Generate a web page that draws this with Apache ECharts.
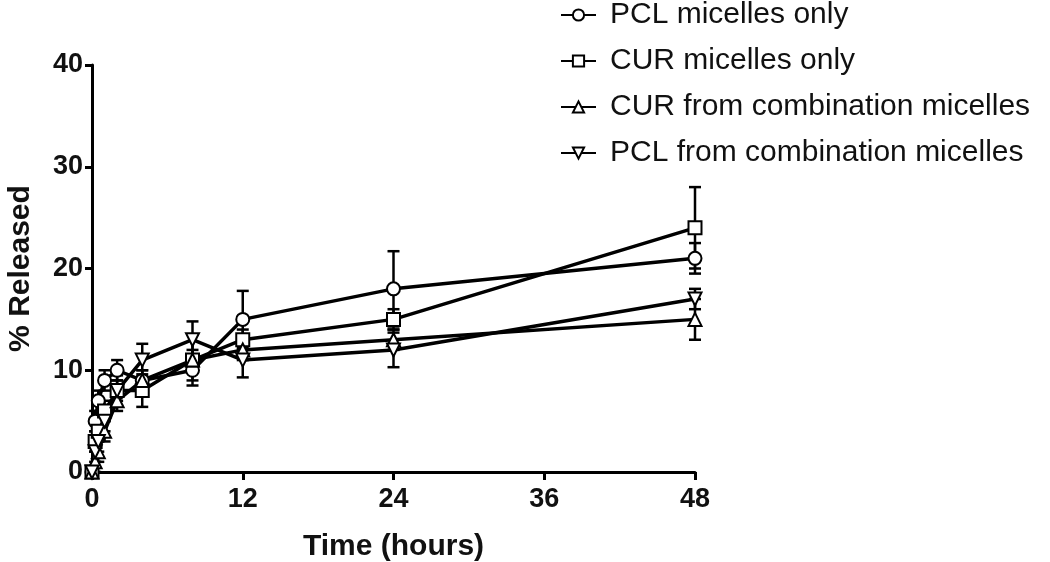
<!DOCTYPE html>
<html>
<head>
<meta charset="utf-8">
<script src="https://cdn.jsdelivr.net/npm/echarts@6/dist/echarts.min.js"></script>
<style>
  html, body { margin: 0; padding: 0; background: #fff; }
  #chart { width: 1050px; height: 562px; }
</style>
</head>
<body>
<div id="chart"></div>
<script>
// Data
const hours = [0, 0.25, 0.5, 1, 2, 4, 8, 12, 24, 48];
const xTicks = [0, 12, 24, 36, 48];

const pclOnly = [0, 5, 7, 9, 10, 9, 10, 15, 18, 21];
const pclOnlyErr = [0, 1, 1, 1, 1, 1, 1, 2.8, 3.7, 1.5];

const curOnly = [0, 3, 4, 6, 8, 8, 11, 13, 15, 24];
const curOnlyErr = [0, 1, 1, 1, 1.5, 1.6, 2.5, 1, 1, 4];

const curComb = [0, 1, 2, 4, 7, 9, 11, 12, 13, 15];
const curCombErr = [0, 1, 1, 1, 1, 1, 1, 1, 1, 2];

const pclComb = [0, 2, 3, 5, 8, 11, 13, 11, 12, 17];
const pclCombErr = [0, 1, 1, 1, 1, 1.6, 1.8, 1.7, 1.7, 1];

const names = [
  'PCL micelles only',
  'CUR micelles only',
  'CUR from combination micelles',
  'PCL from combination micelles'
];

const chart = echarts.init(document.getElementById('chart'));

const downTri = 'path://M0,0 L10,0 L5,9 Z';
const font = 'Liberation Sans';

const lineSeries = (name, values, symbol) => ({
  name: name,
  type: 'line',
  data: hours.map((h, i) => [h, values[i]]),
  symbol: symbol,
  symbolSize: 13,
  lineStyle: { color: '#000', width: 3.5 },
  itemStyle: { color: '#fff', borderColor: '#000', borderWidth: 2 },
  z: 3
});

const errorSeries = (name, values, errs) => ({
  type: 'custom',
  name: name + ' err',
  data: hours.map((h, i) => [h, values[i] - errs[i], values[i] + errs[i]]),
  renderItem: (params, api) => {
    const lo = api.coord([api.value(0), api.value(1)]);
    const hi = api.coord([api.value(0), api.value(2)]);
    const cap = 6;
    const style = { stroke: '#000', lineWidth: 2.5 };
    return {
      type: 'group',
      children: [
        { type: 'line', shape: { x1: lo[0], y1: lo[1], x2: hi[0], y2: hi[1] }, style: style },
        { type: 'line', shape: { x1: hi[0] - cap, y1: hi[1], x2: hi[0] + cap, y2: hi[1] }, style: style },
        { type: 'line', shape: { x1: lo[0] - cap, y1: lo[1], x2: lo[0] + cap, y2: lo[1] }, style: style }
      ]
    };
  },
  z: 2,
  silent: true
});

chart.setOption({
  animation: false,
  backgroundColor: '#fff',
  grid: { left: 92, right: 355, top: 65, bottom: 90, containLabel: false, outerBoundsMode: 'none' },
  legend: {
    data: names,
    left: 555,
    top: -5,
    orient: 'vertical',
    itemWidth: 35,
    itemHeight: 14,
    itemGap: 16,
    textStyle: {
      fontFamily: font,
      fontSize: 30,
      color: '#111',
      padding: [0, 0, 0, 9]
    }
  },
  xAxis: {
    type: 'value',
    min: 0,
    max: 48,
    interval: 12,
    name: 'Time (hours)',
    nameLocation: 'middle',
    nameGap: 60,
    nameTextStyle: { fontFamily: font, fontWeight: 'bold', fontSize: 30, color: '#111' },
    axisLine: { lineStyle: { color: '#000', width: 3 } },
    axisTick: { inside: false, length: 8, lineStyle: { color: '#000', width: 3 } },
    axisLabel: {
      fontFamily: font,
      fontWeight: 'bold',
      fontSize: 27,
      color: '#111',
      margin: 14,
      formatter: v => (xTicks.includes(v) ? String(v) : '')
    },
    splitLine: { show: false }
  },
  yAxis: {
    type: 'value',
    min: 0,
    max: 40,
    interval: 10,
    name: '% Released',
    nameLocation: 'middle',
    nameGap: 56,
    nameTextStyle: { fontFamily: font, fontWeight: 'bold', fontSize: 30, color: '#111' },
    axisLine: { show: true, lineStyle: { color: '#000', width: 3 } },
    axisTick: { show: true, length: 7, lineStyle: { color: '#000', width: 3 } },
    axisLabel: {
      fontFamily: font,
      fontWeight: 'bold',
      fontSize: 27,
      color: '#111',
      margin: 9
    },
    splitLine: { show: false }
  },
  series: [
    errorSeries(names[0], pclOnly, pclOnlyErr),
    errorSeries(names[1], curOnly, curOnlyErr),
    errorSeries(names[2], curComb, curCombErr),
    errorSeries(names[3], pclComb, pclCombErr),
    lineSeries(names[0], pclOnly, 'circle'),
    lineSeries(names[1], curOnly, 'rect'),
    lineSeries(names[2], curComb, 'triangle'),
    lineSeries(names[3], pclComb, downTri)
  ]
});
</script>
</body>
</html>
